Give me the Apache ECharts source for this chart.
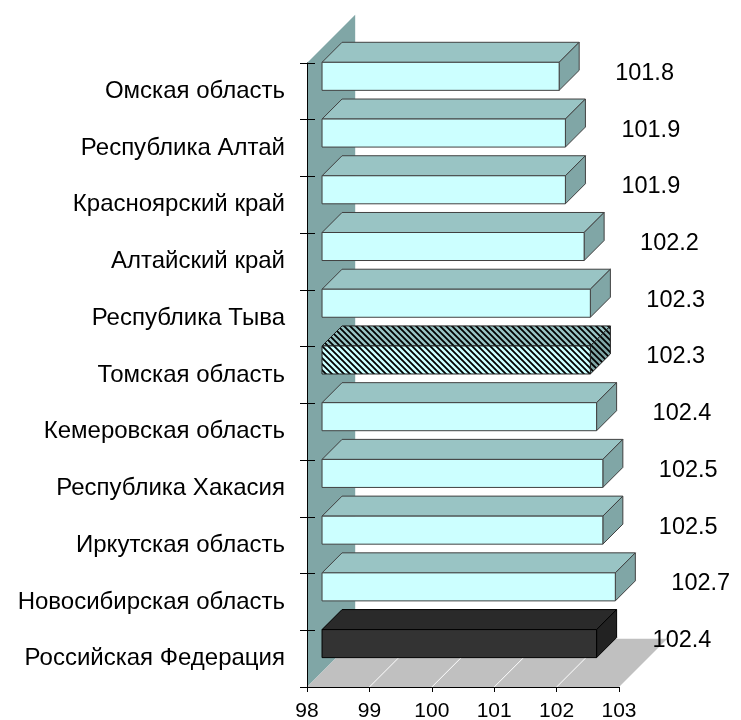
<!DOCTYPE html>
<html><head><meta charset="utf-8">
<script src="https://cdn.jsdelivr.net/npm/echarts@6/dist/echarts.min.js"></script>
<style>html,body{margin:0;padding:0;background:#fff}#c{width:741px;height:720px}</style>
</head><body><div id="c"></div>
<script>
const categories = ['Омская область','Республика Алтай','Красноярский край','Алтайский край','Республика Тыва','Томская область','Кемеровская область','Республика Хакасия','Иркутская область','Новосибирская область','Российская Федерация'];
const values = [101.8,101.9,101.9,102.2,102.3,102.3,102.4,102.5,102.5,102.7,102.4];
const xTicks = [98,99,100,101,102,103];
const hatchedCategory = 'Томская область';
const darkCategory = 'Российская Федерация';

const FONT = "'Liberation Sans', Arial, sans-serif";

function hatch(bg){
  const c = document.createElement('canvas'); c.width = 6; c.height = 6;
  const g = c.getContext('2d');
  g.fillStyle = bg; g.fillRect(0,0,6,6);
  g.strokeStyle = '#000'; g.lineWidth = 1.8;
  g.beginPath();
  g.moveTo(-1,-1); g.lineTo(7,7);
  g.moveTo(-1,5); g.lineTo(1,7);
  g.moveTo(5,-1); g.lineTo(7,1);
  g.stroke();
  return {image: c, repeat: 'repeat'};
}
const normalStyle = {front:'#CCFFFF', top:'#99C4C4', side:'#80A6A6', stroke:'#404040'};
const hatchStyle = {front:hatch('#CCFFFF'), top:hatch('#99C4C4'), side:hatch('#80A6A6'), stroke:'#202020'};
const darkStyle = {front:'#333333', top:'#2A2A2A', side:'#222222', stroke:'#000000'};

const xMin = xTicks[0], xMax = xTicks[xTicks.length-1];

function renderFrame(params, api){
  const band = api.size([0,1])[1];
  const D = band*0.85;
  const yTop = api.coord([xMin,0])[1] - band/2;
  const yBot = api.coord([xMin,categories.length-1])[1] + band/2;
  const xL = api.coord([xMin,0])[0], xR = api.coord([xMax,0])[0];
  const children = [
    {type:'polygon', shape:{points:[[xL,yBot],[xL,yTop],[xL+D,yTop-D],[xL+D,yBot-D]]}, style:{fill:'#80A6A6'}, silent:true},
    {type:'polygon', shape:{points:[[xL,yBot],[xR,yBot],[xR+D,yBot-D],[xL+D,yBot-D]]}, style:{fill:'#C0C0C0'}, silent:true}
  ];
  xTicks.slice(1,-1).forEach(t=>{
    const x = api.coord([t,0])[0];
    children.push({type:'line', shape:{x1:x,y1:yBot,x2:x+D,y2:yBot-D}, style:{stroke:'#FFFFFF', lineWidth:1}, silent:true});
  });
  return {type:'group', children};
}

function renderBar(params, api){
  const v = api.value(0), idx = api.value(1);
  const name = categories[idx];
  const st = name === darkCategory ? darkStyle : (name === hatchedCategory ? hatchStyle : normalStyle);
  const band = api.size([0,1])[1];
  const d0 = band*0.265, d1 = band*0.353, h = band*0.494;
  const cy = api.coord([v, idx])[1];
  const x0 = api.coord([xMin, idx])[0] + d0;
  const x1 = api.coord([v, idx])[0] + d0;
  const yt = cy - d0 - h/2, yb = cy - d0 + h/2;
  const ls = {stroke: st.stroke, lineWidth: 1, lineJoin:'round'};
  return {type:'group', children:[
    {type:'polygon', shape:{points:[[x0,yt],[x1,yt],[x1+d1,yt-d1],[x0+d1,yt-d1]]}, style:Object.assign({fill:st.top}, ls)},
    {type:'polygon', shape:{points:[[x1,yt],[x1+d1,yt-d1],[x1+d1,yb-d1],[x1,yb]]}, style:Object.assign({fill:st.side}, ls)},
    {type:'rect', shape:{x:x0,y:yt,width:x1-x0,height:h}, style:Object.assign({fill:st.front}, ls)},
    {type:'text', x: x1 + 56, y: cy - 18, style:{text: String(v.toFixed(1)), fill:'#000', font: '23.5px ' + FONT, align:'left', verticalAlign:'middle'}}
  ]};
}

const chart = echarts.init(document.getElementById('c'), null, {renderer:'canvas'});
chart.setOption({
  animation:false,
  backgroundColor:'#ffffff',
  grid:{left:307, right:122, top:63, bottom:33, containLabel:false, outerBoundsMode:'none'},
  xAxis:{type:'value', min:xMin, max:xMax, interval:1, z:5,
    axisLine:{show:true, lineStyle:{color:'#000', width:1}},
    axisTick:{show:true, length:5, lineStyle:{color:'#000'}},
    axisLabel:{color:'#000', fontSize:21, fontFamily:FONT, margin:14},
    splitLine:{show:false}},
  yAxis:[
    {type:'category', data:categories, inverse:true, z:5,
      axisLine:{show:true, lineStyle:{color:'#000', width:1}},
      axisTick:{show:true, length:7, lineStyle:{color:'#000'}},
      axisLabel:{color:'#000', fontSize:24, fontFamily:FONT, margin:22},
      splitLine:{show:false}},
    {type:'category', data:categories, inverse:true, position:'left', z:5,
      axisLine:{show:false},
      axisTick:{show:true, inside:true, length:8, lineStyle:{color:'#000'}},
      axisLabel:{show:false}, splitLine:{show:false}}
  ],
  series:[
    {type:'custom', name:'frame', z:1, silent:true, renderItem:renderFrame, data:[[xMin,0]], clip:false},
    {type:'custom', name:'bars', z:2, silent:true, renderItem:renderBar, data: values.map((v,i)=>[v,i]), clip:false}
  ]
});
</script></body></html>
